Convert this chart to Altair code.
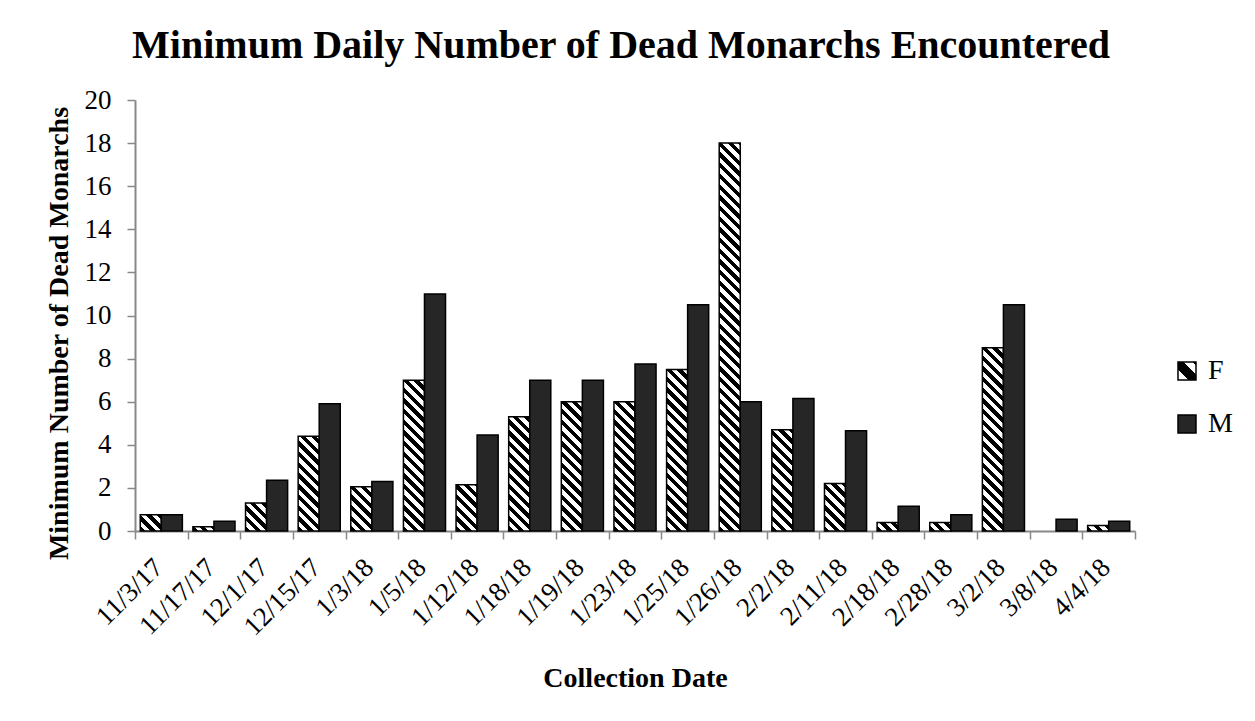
import altair as alt
import pandas as pd

dates = ["11/3/17", "11/17/17", "12/1/17", "12/15/17", "1/3/18", "1/5/18", "1/12/18",
         "1/18/18", "1/19/18", "1/23/18", "1/25/18", "1/26/18", "2/2/18", "2/11/18",
         "2/18/18", "2/28/18", "3/2/18", "3/8/18", "4/4/18"]
female = [0.75, 0.2, 1.3, 4.4, 2.05, 7.0, 2.15, 5.3, 6.0, 6.0, 7.5, 18.0, 4.7, 2.2,
          0.4, 0.4, 8.5, 0.0, 0.25]
male = [0.75, 0.45, 2.35, 5.9, 2.3, 11.0, 4.45, 7.0, 7.0, 7.75, 10.5, 6.0, 6.15, 4.65,
        1.15, 0.75, 10.5, 0.55, 0.45]
sexes = ["F", "M"]
y_ticks = list(range(0, 21, 2))

PLOT_W, PLOT_H = 1000, 431
Y_MAX = 20
FONT = "Liberation Serif"

rows = []
for d, f, m in zip(dates, female, male):
    rows.append({"date": d, "sex": "F", "value": f})
    rows.append({"date": d, "sex": "M", "value": m})
df = pd.DataFrame(rows)


def hatch(w, h, period=10.7, dark=0.5):
    """Diagonal '\\' stripe pattern as a hard-stop linear gradient for a w x h box."""
    L = w + h
    stops = []
    k = 0
    while k * period < L:
        a = k * period
        b = a + dark * period
        c = (k + 1) * period
        for s, e, col in ((a, b, "#000000"), (b, c, "#ffffff")):
            if s >= L:
                break
            e = min(e, L)
            stops.append({"offset": round(s / L, 5), "color": col})
            stops.append({"offset": round(e / L, 5), "color": col})
        k += 1
    kx = w * L / (w * w + h * h)
    return {"gradient": "linear", "x1": 0, "y1": 1, "x2": round(kx, 6),
            "y2": round(1 - kx * h / w, 6), "stops": stops}


bar_w = PLOT_W / len(dates) / 2.5
conds = []
for d, f in zip(dates, female):
    if f > 0:
        conds.append({"test": f"datum.sex === 'F' && datum.date === '{d}'",
                      "value": hatch(bar_w, f * PLOT_H / Y_MAX)})

# hatched swatch for the legend entry "F"
legend_swatch = ("{gradient: 'linear', x1: 0, y1: 1, x2: 1, y2: 0, stops: ["
                 "{offset: 0, color: '#ffffff'}, {offset: 0.3, color: '#ffffff'}, "
                 "{offset: 0.3, color: '#000000'}, {offset: 0.66, color: '#000000'}, "
                 "{offset: 0.66, color: '#ffffff'}, {offset: 0.9, color: '#ffffff'}, "
                 "{offset: 0.9, color: '#000000'}, {offset: 1, color: '#000000'}]}")

chart = alt.Chart(df).transform_filter("datum.value > 0").mark_bar(
    stroke="black", strokeWidth=1.5
).encode(
    x=alt.X("date:N", sort=dates,
            scale=alt.Scale(domain=dates, paddingInner=0, paddingOuter=0),
            axis=alt.Axis(title="Collection Date", labelAngle=-45, labelAlign="right",
                          labelBaseline="middle", tickBand="extent", tickSize=8,
                          labelPadding=24, labelOffset=-3, titlePadding=24)),
    xOffset=alt.XOffset("sex:N", scale=alt.Scale(domain=sexes, paddingInner=0, paddingOuter=0.25)),
    y=alt.Y("value:Q", scale=alt.Scale(domain=[0, Y_MAX], nice=False),
            axis=alt.Axis(title="Minimum Number of Dead Monarchs", values=y_ticks,
                          tickSize=8, labelPadding=16, titlePadding=11, titleY=233)),
    fill=alt.Fill("sex:N",
                  scale=alt.Scale(domain=sexes, range=[alt.ExprRef(legend_swatch), "#262626"]),
                  condition=conds,
                  legend=alt.Legend(title=None, orient="none", legendX=1038, legendY=257,
                                    symbolType="square", symbolSize=324,
                                    symbolStrokeColor="black", symbolStrokeWidth=1.5,
                                    labelFontSize=28, labelFont=FONT, labelColor="black",
                                    rowPadding=25, labelOffset=7)),
).properties(
    width=PLOT_W,
    height=PLOT_H,
    title=alt.TitleParams("Minimum Daily Number of Dead Monarchs Encountered",
                          font=FONT, fontSize=40, fontWeight="bold", color="black",
                          anchor="middle", dx=-14, offset=20),
    padding={"left": 37, "top": 18, "right": 5, "bottom": 5},
).configure_view(stroke=None).configure_axis(
    grid=False, domainColor="#888888", domainWidth=2, tickColor="#888888", tickWidth=1.5,
    labelFont=FONT, labelFontSize=27, labelColor="black",
    titleFont=FONT, titleFontSize=28, titleFontWeight="bold", titleColor="black",
)

chart.save("out.html", embed_options={"renderer": "svg", "actions": False})
